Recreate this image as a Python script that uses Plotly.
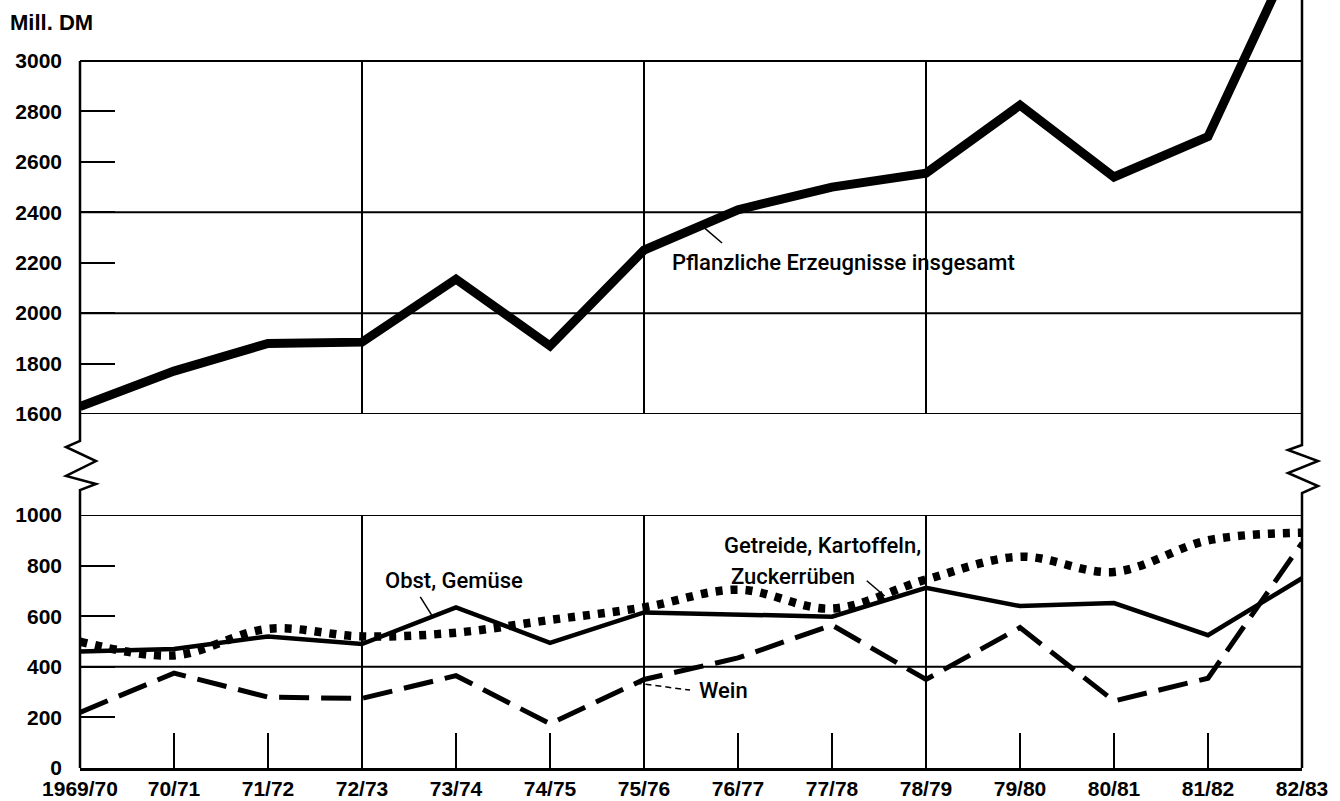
import plotly.graph_objects as go

# ---------------- data ----------------
years = ["1969/70", "70/71", "71/72", "72/73", "73/74", "74/75", "75/76",
         "76/77", "77/78", "78/79", "79/80", "80/81", "81/82", "82/83"]
total = [1630, 1770, 1880, 1885, 2135, 1870, 2250, 2410, 2500, 2555, 2825, 2540, 2700, 3500]
getreide = [500, 445, 550, 520, 535, 585, 635, 705, 630, 745, 835, 775, 900, 930]
obst = [460, 470, 520, 490, 635, 495, 615, 605, 598, 712, 640, 652, 525, 750]
wein = [220, 375, 280, 275, 365, 175, 350, 435, 565, 350, 555, 265, 355, 890]

top_ticks = [1600, 1800, 2000, 2200, 2400, 2600, 2800, 3000]
bottom_ticks = [0, 200, 400, 600, 800, 1000]
top_grid = [3000, 2400, 2000, 1600]
bottom_grid = [1000, 400]
vert_grid = [3, 6, 9]

# ---------------- layout geometry ----------------
W, H = 1340, 801
ML, MR, MT, MB = 80, 38, 0, 33
PW, PH = W - ML - MR, H - MT - MB


def px(p):
    return (p - ML) / PW


def py(p):
    return (H - MB - p) / PH


x = list(range(len(years)))
FONT = "Liberation Sans, Arial, Helvetica, sans-serif"

fig = go.Figure()
fig.add_trace(go.Scatter(x=x, y=total, xaxis="x", yaxis="y2", mode="lines",
                         line=dict(color="black", width=9), name="Pflanzliche Erzeugnisse insgesamt"))
fig.add_trace(go.Scatter(x=x, y=getreide, mode="lines",
                         line=dict(color="black", width=8.5, dash="7px,8px", shape="spline", smoothing=1.0),
                         name="Getreide, Kartoffeln, Zuckerrüben"))
fig.add_trace(go.Scatter(x=x, y=obst, mode="lines",
                         line=dict(color="black", width=4.5), name="Obst, Gemüse"))
fig.add_trace(go.Scatter(x=x, y=wein, mode="lines",
                         line=dict(color="black", width=5, dash="30px,12px"), name="Wein"))

shapes = []
LW = 2
for v in top_grid:
    shapes.append(dict(type="line", xref="x", yref="y2", x0=0, x1=13, y0=v, y1=v,
                       line=dict(color="black", width=LW), layer="below"))
for v in bottom_grid:
    shapes.append(dict(type="line", xref="x", yref="y", x0=0, x1=13, y0=v, y1=v,
                       line=dict(color="black", width=LW), layer="below"))
for v in vert_grid:
    shapes.append(dict(type="line", xref="x", yref="y2", x0=v, x1=v, y0=1600, y1=3000,
                       line=dict(color="black", width=LW), layer="below"))
    shapes.append(dict(type="line", xref="x", yref="y", x0=v, x1=v, y0=0, y1=1000,
                       line=dict(color="black", width=LW), layer="below"))

# left border with zigzag break
lz = [(80, 61), (80, 441), (66, 447), (96, 461), (66, 476), (96, 484), (80, 490), (80, 768)]
path = "M " + " L ".join(f"{px(a):.5f},{py(b):.5f}" for a, b in lz)
shapes.append(dict(type="path", xref="paper", yref="paper", path=path,
                   line=dict(color="black", width=2.5)))
# right border with zigzag break
rz = [(1302, 0), (1302, 445), (1288, 450), (1318, 461), (1288, 473), (1318, 486), (1302, 493), (1302, 768)]
path = "M " + " L ".join(f"{px(a):.5f},{py(b):.5f}" for a, b in rz)
shapes.append(dict(type="path", xref="paper", yref="paper", path=path,
                   line=dict(color="black", width=2.5)))

# leader lines
shapes.append(dict(type="line", xref="x", yref="y2", x0=6.63, y0=2342, x1=6.83, y1=2278,
                   line=dict(color="black", width=1.5)))
shapes.append(dict(type="line", xref="x", yref="y", x0=3.62, y0=676, x1=3.74, y1=605,
                   line=dict(color="black", width=1.5)))
shapes.append(dict(type="line", xref="x", yref="y", x0=8.37, y0=740, x1=8.56, y1=680,
                   line=dict(color="black", width=1.5)))
shapes.append(dict(type="line", xref="x", yref="y", x0=5.91, y0=336, x1=6.49, y1=308,
                   line=dict(color="black", width=1.5, dash="6px,4px")))

ann_font = dict(family="Roboto, Liberation Sans, Arial, sans-serif", size=22, color="black", weight=500)
annotations = [
    dict(text="Pflanzliche Erzeugnisse insgesamt", xref="x", yref="y2", x=6.28, y=2199,
         xanchor="left", yanchor="middle", showarrow=False, font=ann_font),
    dict(text="Obst, Gemüse", xref="x", yref="y", x=3.22, y=743,
         xanchor="left", yanchor="middle", showarrow=False, font=ann_font),
    dict(text="Getreide, Kartoffeln,", xref="x", yref="y", x=6.83, y=881,
         xanchor="left", yanchor="middle", showarrow=False, font=ann_font),
    dict(text="Zuckerrüben", xref="x", yref="y", x=6.90, y=755,
         xanchor="left", yanchor="middle", showarrow=False, font=ann_font),
    dict(text="Wein", xref="x", yref="y", x=6.56, y=306,
         xanchor="left", yanchor="middle", showarrow=False, font=ann_font),
    dict(text="Mill. DM", xref="paper", yref="paper", x=px(8), y=py(22),
         xanchor="left", yanchor="middle", showarrow=False,
         font=dict(family=FONT, size=22, color="black", weight="bold")),
]

tick_font = dict(family=FONT, size=21, color="black", weight="bold")

fig.update_layout(
    template="none",
    width=W, height=H, autosize=False,
    margin=dict(l=ML, r=MR, t=MT, b=MB, pad=0),
    paper_bgcolor="white", plot_bgcolor="white",
    showlegend=False,
    shapes=shapes, annotations=annotations,
    xaxis=dict(range=[0, 13], tickvals=x, ticktext=years, ticks="inside", ticklen=35,
               tickwidth=2, tickcolor="black", showgrid=False, zeroline=False,
               showline=True, linecolor="black", linewidth=3, tickfont=tick_font,
               anchor="y", ticklabelstandoff=0, automargin=False),
    yaxis=dict(domain=[0, py(515)], range=[0, 1000], tickvals=bottom_ticks,
               ticks="inside", ticklen=35, tickwidth=2, tickcolor="black",
               showgrid=False, zeroline=False, showline=False, tickfont=tick_font,
               anchor="x", ticklabelstandoff=17, automargin=False),
    yaxis2=dict(domain=[py(414), 1], range=[1600, 1600 + 414 * 1400 / 353],
                tickvals=top_ticks, ticks="inside", ticklen=35, tickwidth=2,
                tickcolor="black", showgrid=False, zeroline=False, showline=False,
                tickfont=tick_font, anchor="x", ticklabelstandoff=17, automargin=False),
)

fig.write_html("out.html", config={"displayModeBar": False},
               post_script="document.body.style.margin='0';document.body.style.overflow='hidden';")
